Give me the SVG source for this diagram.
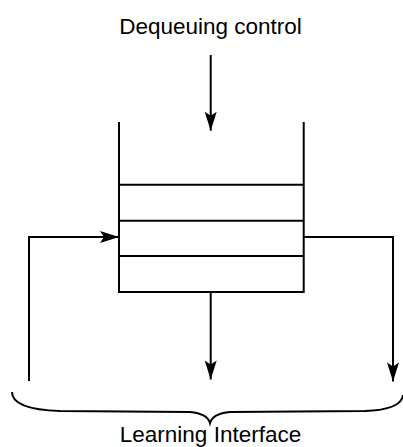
<svg xmlns="http://www.w3.org/2000/svg" width="403" height="447" viewBox="0 0 403 447">
<style>
.ln{fill:none;stroke:#000;stroke-width:2;}
.lbl{font-family:"Liberation Sans",Arial,Helvetica,sans-serif;font-size:22.5px;fill:#000;text-anchor:middle;}
</style>
<defs>
<marker id="ah" markerUnits="userSpaceOnUse" viewBox="-20 -7 22 14" refX="0" refY="0" markerWidth="22" markerHeight="14" orient="auto" overflow="visible">
<path d="M0,0 L-19,-6 L-15,0 L-19,6 Z" fill="#000"/>
</marker>
</defs>
<rect width="403" height="447" fill="#fff"/>
<g id="dequeuing-label"><text class="lbl" x="210.5" y="33.5">Dequeuing control</text></g>
<g id="queue">
<path class="ln" d="M119,122 V292 H303.7 V122"/>
<path class="ln" d="M119,184.7 H303.7 M119,220.7 H303.7 M119,256 H303.7"/>
</g>
<g id="learning-interface">
<path class="ln" stroke-width="1.4" d="M12,392 C12,404 28,410 60,411 L190,412 C201,413 208,416 210,423 C212,416 219,413 230,412 L365,411 C392,410 402,404 403,395"/>
<text class="lbl" x="210.5" y="442">Learning Interface</text>
</g>
<g id="connectors">
<path class="ln" d="M210.7,55 V130.7" marker-end="url(#ah)"/>
<path class="ln" d="M210.7,292 V379.5" marker-end="url(#ah)"/>
<path class="ln" d="M29,381 V237 H119" marker-end="url(#ah)"/>
<path class="ln" d="M303.7,237 H393 V381.5" marker-end="url(#ah)"/>
</g>
</svg>
